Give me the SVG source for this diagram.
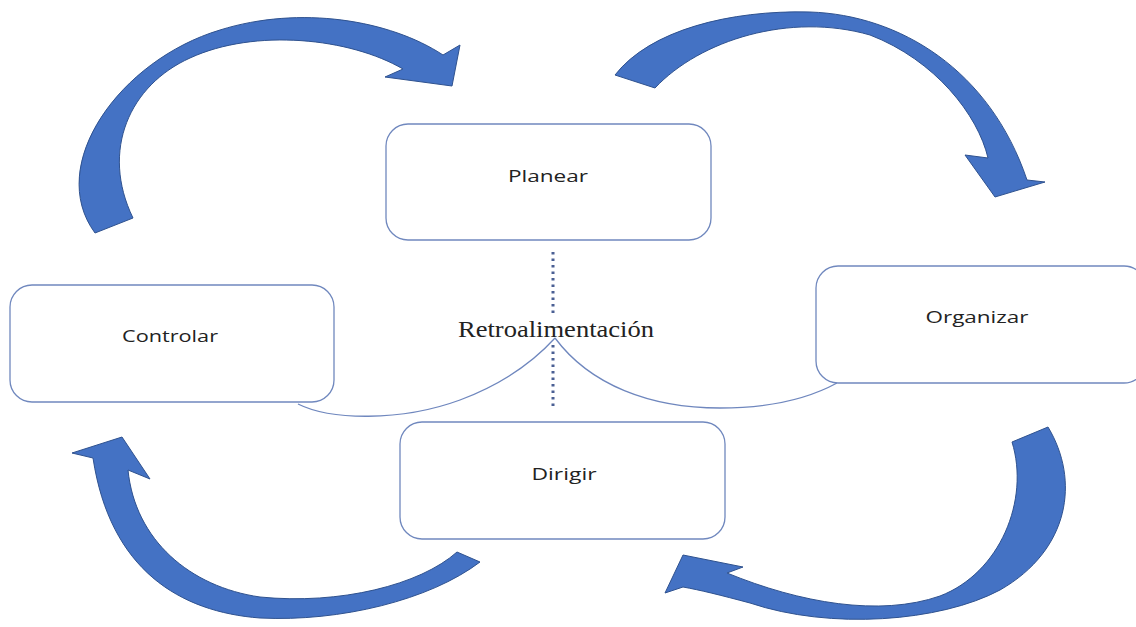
<svg xmlns="http://www.w3.org/2000/svg" width="1136" height="627" viewBox="0 0 1136 627">
<style>
.box{fill:#fff;stroke:#7088BE;stroke-width:1.3}
.lbl{font-family:"Open Sans","Liberation Sans",sans-serif;font-size:17px;fill:#222;text-anchor:middle}
.arr{fill:#4472C4;stroke:#2F528F;stroke-width:1;stroke-linejoin:miter}
.cl{fill:none;stroke:#6F87BE;stroke-width:1.3}
.dot{fill:none;stroke:#4A5F93;stroke-width:3;stroke-dasharray:2.5 4}
</style>
<rect width="1136" height="627" fill="#fff"/>
<g id="connectors">
  <path class="arr" d="M95,233 C45,165 120,60 220,30 C300,5 390,20 443,55 L460,45 L452,86 L385,77 L403,69 C350,38 255,28 190,58 C130,85 100,150 133,218 Z"/>
  <path class="arr" d="M615,75 C650,30 730,10 810,12 C900,15 990,70 1027,180 L1045,182 L995,197 L965,155 L988,158 C978,115 935,60 870,35 C790,12 700,40 655,88 Z"/>
  <path class="arr" d="M1048,427 C1080,480 1070,550 1000,590 C940,622 830,630 750,603 C720,595 700,590 683,587 L665,593 L683,555 L743,567 L727,573 C800,603 880,617 940,596 C1000,573 1030,500 1012,442 Z"/>
  <path class="arr" d="M457,552 L480,562 C430,600 340,622 260,618 C180,612 110,570 93,458 L72,453 L122,437 L150,479 L128,470 C135,540 190,587 260,597 C340,605 420,585 457,552 Z"/>
  <path class="cl" d="M298,404 C330,420 400,422 460,400 C505,383 535,360 555,338"/>
  <path class="cl" d="M555,338 C590,385 650,408 720,408 C780,408 815,395 837,383"/>
  <path class="dot" d="M553,252 L553,314"/>
  <path class="dot" d="M553,345 L553,410"/>
</g>
<g id="planear">
  <rect class="box" x="386" y="124" width="325" height="116" rx="22"/>
  <text class="lbl" x="548" y="182" textLength="80" lengthAdjust="spacingAndGlyphs">Planear</text>
</g>
<g id="controlar">
  <rect class="box" x="10" y="285" width="324" height="117" rx="22"/>
  <text class="lbl" x="170" y="342" textLength="96" lengthAdjust="spacingAndGlyphs">Controlar</text>
</g>
<g id="organizar">
  <rect class="box" x="816" y="266" width="330" height="117" rx="22"/>
  <text class="lbl" x="977" y="323" textLength="103" lengthAdjust="spacingAndGlyphs">Organizar</text>
</g>
<g id="dirigir">
  <rect class="box" x="400" y="422" width="325" height="117" rx="22"/>
  <text class="lbl" x="564" y="480" textLength="65" lengthAdjust="spacingAndGlyphs">Dirigir</text>
</g>
<g id="retroalimentacion">
  <text x="556" y="337" font-family="'Liberation Serif','Times New Roman',serif" font-size="23" fill="#222" text-anchor="middle" textLength="196" lengthAdjust="spacingAndGlyphs">Retroalimentación</text>
</g>
</svg>
